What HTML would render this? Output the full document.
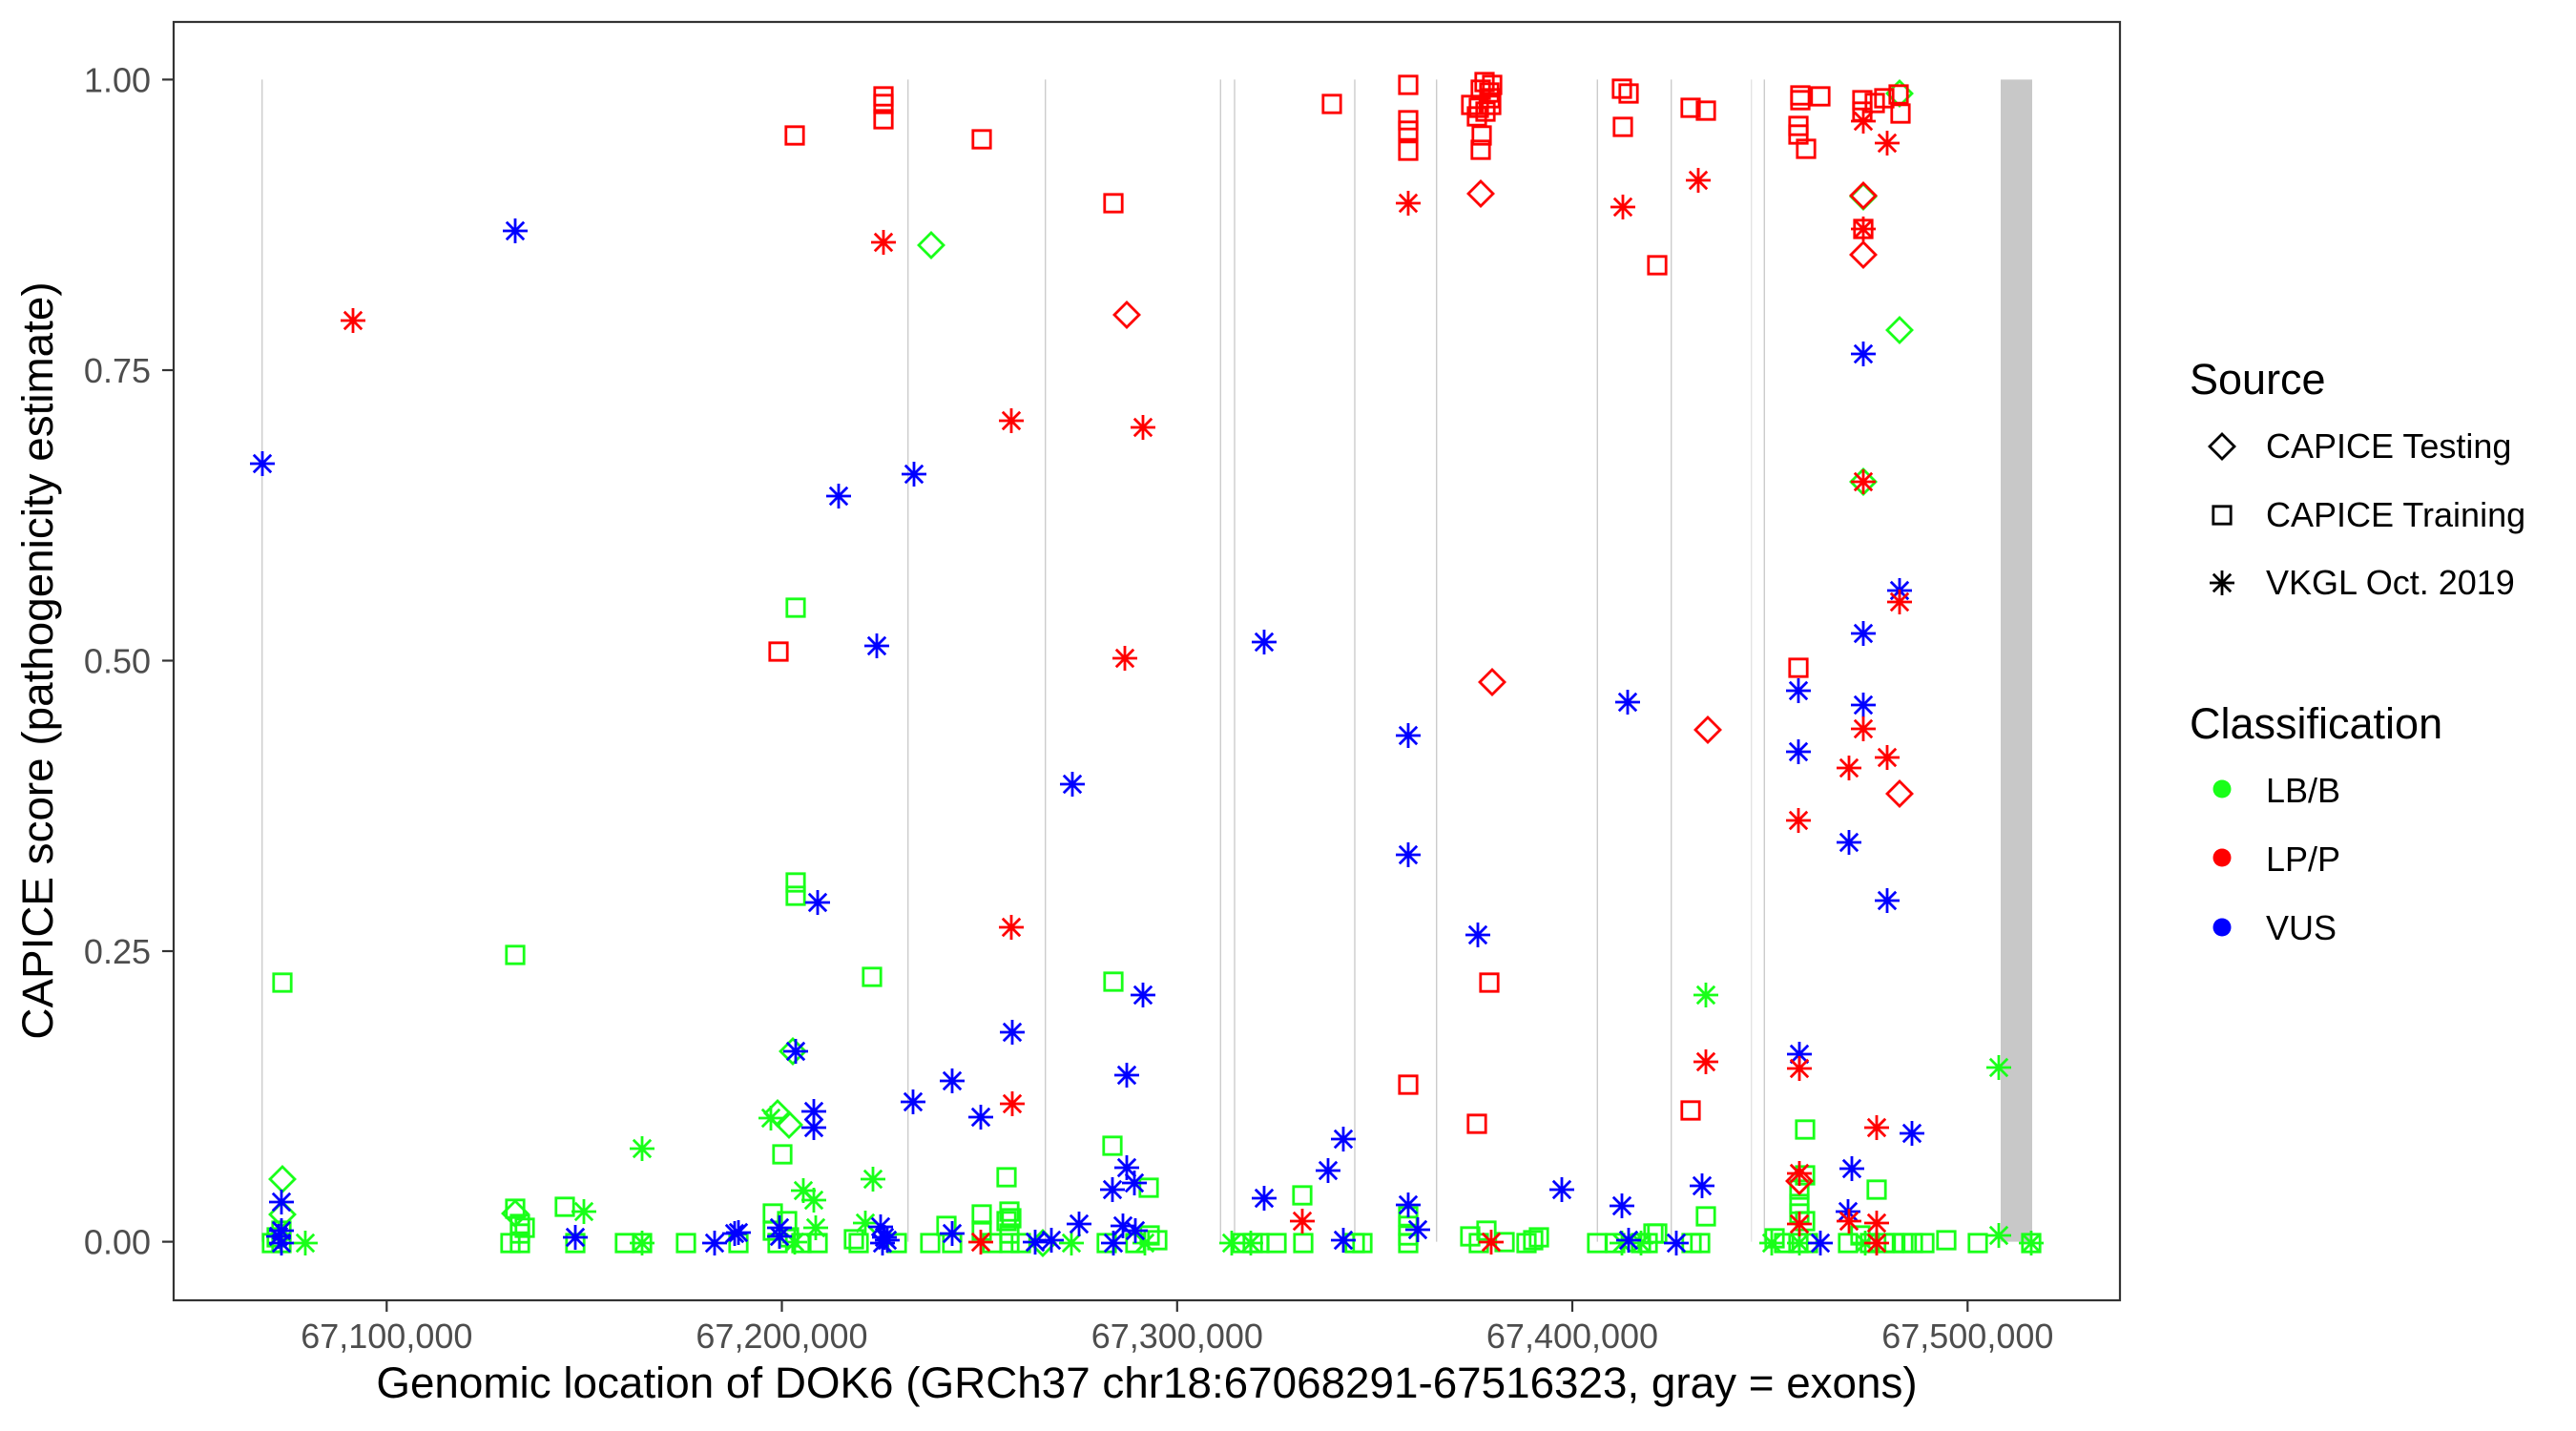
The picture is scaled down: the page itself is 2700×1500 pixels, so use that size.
<!DOCTYPE html>
<html><head><meta charset="utf-8"><style>
html,body{margin:0;padding:0;background:#fff;}
svg{display:block;}
text{font-family:"Liberation Sans",Arial,sans-serif;}
</style></head><body>
<svg width="2700" height="1500" viewBox="0 0 2700 1500" xmlns="http://www.w3.org/2000/svg">
<defs>
<path id="s" d="M-9.2,-9.2H9.2V9.2H-9.2Z" fill="none"/>
<path id="d" d="M0,-13L13,0L0,13L-13,0Z" fill="none"/>
<path id="a" d="M-13,0H13M0,-13V13M-9.2,-9.2L9.2,9.2M-9.2,9.2L9.2,-9.2" fill="none"/>
</defs>
<rect x="0" y="0" width="2700" height="1500" fill="#fff"/>
<g stroke="#cccccc" stroke-width="1.4">
<line x1="274.7" y1="83.4" x2="274.7" y2="1301.6"/>
<line x1="951.7" y1="83.4" x2="951.7" y2="1301.6"/>
<line x1="1095.7" y1="83.4" x2="1095.7" y2="1301.6"/>
<line x1="1279.3" y1="83.4" x2="1279.3" y2="1301.6"/>
<line x1="1294" y1="83.4" x2="1294" y2="1301.6"/>
<line x1="1420" y1="83.4" x2="1420" y2="1301.6"/>
<line x1="1505.7" y1="83.4" x2="1505.7" y2="1301.6"/>
<line x1="1674.3" y1="83.4" x2="1674.3" y2="1301.6"/>
<line x1="1751.7" y1="83.4" x2="1751.7" y2="1301.6"/>
<line x1="1849.3" y1="83.4" x2="1849.3" y2="1301.6"/>
</g>
<line x1="1835.7" y1="83.4" x2="1835.7" y2="1301.6" stroke="#e4e4e4" stroke-width="1.4"/>
<rect x="2097" y="83.4" width="33" height="1218.2" fill="#c8c8c8"/>

<g stroke-width="2.8">
<g stroke="#19ff19">
<use href="#s" x="295" y="1290"/><use href="#s" x="290" y="1297"/><use href="#s" x="295" y="1303"/><use href="#s" x="285" y="1303"/><use href="#s" x="540" y="1267"/><use href="#s" x="545" y="1283"/><use href="#s" x="550" y="1287"/><use href="#s" x="545" y="1293"/><use href="#s" x="545" y="1303"/><use href="#s" x="535" y="1303"/><use href="#s" x="592" y="1265"/><use href="#s" x="603" y="1303"/><use href="#s" x="655" y="1303"/><use href="#s" x="673" y="1303"/><use href="#s" x="296" y="1030"/><use href="#s" x="540" y="1001"/>
<use href="#s" x="719" y="1303"/><use href="#s" x="774" y="1303"/><use href="#s" x="820" y="1210"/><use href="#s" x="810" y="1272"/><use href="#s" x="825" y="1280"/><use href="#s" x="810" y="1290"/><use href="#s" x="827" y="1297"/><use href="#s" x="815" y="1303"/><use href="#s" x="840" y="1303"/><use href="#s" x="857" y="1303"/><use href="#s" x="895" y="1299"/><use href="#s" x="900" y="1303"/><use href="#s" x="940" y="1303"/><use href="#s" x="975" y="1303"/><use href="#s" x="992" y="1285"/><use href="#s" x="998" y="1303"/><use href="#s" x="1029" y="1273"/><use href="#s" x="1029" y="1290"/><use href="#s" x="1040" y="1303"/><use href="#s" x="1055" y="1234"/><use href="#s" x="1058" y="1270"/><use href="#s" x="1060" y="1277"/><use href="#s" x="1055" y="1280"/><use href="#s" x="1058" y="1293"/><use href="#s" x="1058" y="1303"/><use href="#s" x="1070" y="1303"/><use href="#s" x="1166" y="1201"/><use href="#s" x="1204" y="1245"/><use href="#s" x="1160" y="1303"/><use href="#s" x="1190" y="1303"/><use href="#s" x="1205" y="1295"/><use href="#s" x="1213" y="1300"/>
<use href="#s" x="834" y="637"/><use href="#s" x="834" y="925"/><use href="#s" x="834" y="939"/><use href="#s" x="914" y="1024"/><use href="#s" x="1167" y="1029"/>
<use href="#s" x="1302" y="1303"/><use href="#s" x="1313" y="1303"/><use href="#s" x="1320" y="1303"/><use href="#s" x="1338" y="1303"/><use href="#s" x="1365" y="1253"/><use href="#s" x="1366" y="1303"/><use href="#s" x="1420" y="1303"/><use href="#s" x="1428" y="1303"/><use href="#s" x="1476" y="1275"/><use href="#s" x="1476" y="1285"/><use href="#s" x="1476" y="1295"/><use href="#s" x="1476" y="1303"/><use href="#s" x="1541" y="1296"/><use href="#s" x="1550" y="1303"/><use href="#s" x="1558" y="1290"/><use href="#s" x="1577" y="1302"/><use href="#s" x="1607" y="1300"/><use href="#s" x="1613" y="1297"/><use href="#s" x="1600" y="1303"/><use href="#s" x="1674" y="1303"/><use href="#s" x="1693" y="1303"/><use href="#s" x="1720" y="1303"/><use href="#s" x="1733" y="1293"/>
<use href="#s" x="1727" y="1303"/><use href="#s" x="1737" y="1293"/><use href="#s" x="1788" y="1275"/><use href="#s" x="1773" y="1303"/><use href="#s" x="1782" y="1303"/><use href="#s" x="1892" y="1184"/><use href="#s" x="1892" y="1232"/><use href="#s" x="1886" y="1247"/><use href="#s" x="1886" y="1262"/><use href="#s" x="1886" y="1272"/><use href="#s" x="1892" y="1280"/><use href="#s" x="1860" y="1298"/><use href="#s" x="1870" y="1303"/><use href="#s" x="1885" y="1303"/><use href="#s" x="1895" y="1303"/><use href="#s" x="1967" y="1247"/><use href="#s" x="1937" y="1303"/><use href="#s" x="1950" y="1295"/><use href="#s" x="1960" y="1303"/><use href="#s" x="1975" y="1303"/><use href="#s" x="1985" y="1303"/><use href="#s" x="1995" y="1303"/><use href="#s" x="2005" y="1303"/><use href="#s" x="2017" y="1303"/><use href="#s" x="2040" y="1300"/><use href="#s" x="2073" y="1303"/><use href="#s" x="2129" y="1303"/>
<use href="#d" x="296" y="1236"/><use href="#d" x="296" y="1273"/><use href="#d" x="540" y="1272"/><use href="#d" x="831" y="1102"/><use href="#d" x="815" y="1167"/><use href="#d" x="827" y="1179"/><use href="#d" x="976" y="257"/><use href="#d" x="1093" y="1303"/><use href="#d" x="1991" y="98"/><use href="#d" x="1953" y="206"/><use href="#d" x="1991" y="346"/><use href="#d" x="1953" y="505"/>
<use href="#a" x="320" y="1303"/><use href="#a" x="612" y="1270"/><use href="#a" x="673" y="1204"/><use href="#a" x="673" y="1303"/><use href="#a" x="808" y="1172"/><use href="#a" x="842" y="1248"/><use href="#a" x="853" y="1258"/><use href="#a" x="855" y="1287"/><use href="#a" x="833" y="1302"/><use href="#a" x="915" y="1236"/><use href="#a" x="907" y="1282"/><use href="#a" x="1123" y="1303"/><use href="#a" x="1200" y="1303"/><use href="#a" x="1291" y="1303"/><use href="#a" x="1311" y="1303"/><use href="#a" x="1700" y="1303"/><use href="#a" x="1720" y="1303"/><use href="#a" x="1788" y="1043"/><use href="#a" x="1857" y="1303"/><use href="#a" x="1886" y="1303"/><use href="#a" x="1955" y="1303"/><use href="#a" x="2095" y="1119"/><use href="#a" x="2095" y="1295"/><use href="#a" x="2129" y="1303"/>
</g>
<g stroke="#0000ff">
<use href="#a" x="275" y="486"/><use href="#a" x="540" y="242"/><use href="#a" x="295" y="1260"/><use href="#a" x="295" y="1290"/><use href="#a" x="295" y="1303"/><use href="#a" x="292" y="1296"/><use href="#a" x="603" y="1297"/><use href="#a" x="749" y="1303"/><use href="#a" x="770" y="1293"/><use href="#a" x="774" y="1292"/><use href="#a" x="834" y="1102"/><use href="#a" x="853" y="1165"/><use href="#a" x="853" y="1182"/><use href="#a" x="817" y="1287"/><use href="#a" x="817" y="1296"/><use href="#a" x="857" y="946"/><use href="#a" x="879" y="520"/><use href="#a" x="919" y="677"/><use href="#a" x="958" y="497"/><use href="#a" x="957" y="1155"/><use href="#a" x="998" y="1133"/><use href="#a" x="1028" y="1171"/><use href="#a" x="1061" y="1082"/><use href="#a" x="923" y="1286"/><use href="#a" x="927" y="1297"/><use href="#a" x="925" y="1303"/><use href="#a" x="930" y="1300"/><use href="#a" x="998" y="1293"/><use href="#a" x="1085" y="1302"/><use href="#a" x="1102" y="1300"/><use href="#a" x="1124" y="822"/><use href="#a" x="1131" y="1283"/><use href="#a" x="1181" y="1127"/><use href="#a" x="1198" y="1043"/><use href="#a" x="1181" y="1224"/><use href="#a" x="1189" y="1240"/><use href="#a" x="1166" y="1247"/><use href="#a" x="1177" y="1285"/><use href="#a" x="1190" y="1290"/><use href="#a" x="1167" y="1303"/><use href="#a" x="1325" y="673"/><use href="#a" x="1325" y="1256"/><use href="#a" x="1392" y="1227"/><use href="#a" x="1408" y="1194"/><use href="#a" x="1408" y="1300"/><use href="#a" x="1476" y="771"/><use href="#a" x="1476" y="896"/><use href="#a" x="1476" y="1263"/><use href="#a" x="1486" y="1289"/><use href="#a" x="1549" y="980"/><use href="#a" x="1637" y="1247"/><use href="#a" x="1706" y="736"/><use href="#a" x="1700" y="1264"/><use href="#a" x="1707" y="1300"/><use href="#a" x="1784" y="1243"/><use href="#a" x="1757" y="1303"/><use href="#a" x="1885" y="724"/><use href="#a" x="1885" y="788"/><use href="#a" x="1886" y="1105"/><use href="#a" x="1908" y="1303"/><use href="#a" x="1938" y="883"/><use href="#a" x="1941" y="1225"/><use href="#a" x="1937" y="1270"/><use href="#a" x="1953" y="371"/><use href="#a" x="1953" y="664"/><use href="#a" x="1953" y="739"/><use href="#a" x="1978" y="944"/><use href="#a" x="1991" y="619"/><use href="#a" x="2004" y="1188"/>
</g>
<g stroke="#ff0000">
<use href="#s" x="833" y="142"/><use href="#s" x="816" y="683"/><use href="#s" x="926" y="101"/><use href="#s" x="926" y="109"/><use href="#s" x="926" y="125"/><use href="#s" x="1029" y="146"/><use href="#s" x="1167" y="213"/><use href="#s" x="1396" y="109"/><use href="#s" x="1476" y="89"/><use href="#s" x="1476" y="126"/><use href="#s" x="1476" y="137"/><use href="#s" x="1476" y="158"/><use href="#s" x="1476" y="1137"/>
<use href="#s" x="1556" y="86"/><use href="#s" x="1564" y="89"/><use href="#s" x="1552" y="94"/><use href="#s" x="1561" y="97"/><use href="#s" x="1562" y="103"/><use href="#s" x="1563" y="110"/><use href="#s" x="1542" y="110"/><use href="#s" x="1550" y="113"/><use href="#s" x="1557" y="117"/><use href="#s" x="1548" y="122"/><use href="#s" x="1553" y="142"/><use href="#s" x="1552" y="157"/>
<use href="#s" x="1548" y="1178"/><use href="#s" x="1561" y="1030"/><use href="#s" x="1700" y="93"/><use href="#s" x="1707" y="98"/><use href="#s" x="1701" y="133"/><use href="#s" x="1737" y="278"/><use href="#s" x="1772" y="113"/><use href="#s" x="1788" y="116"/><use href="#s" x="1772" y="1164"/>
<use href="#s" x="1887" y="100"/><use href="#s" x="1887" y="105"/><use href="#s" x="1908" y="101"/><use href="#s" x="1885" y="132"/><use href="#s" x="1885" y="141"/><use href="#s" x="1893" y="156"/><use href="#s" x="1885" y="700"/>
<use href="#s" x="1952" y="105"/><use href="#s" x="1952" y="117"/><use href="#s" x="1965" y="108"/><use href="#s" x="1975" y="103"/><use href="#s" x="1990" y="99"/><use href="#s" x="1992" y="119"/><use href="#s" x="1953" y="240"/>
<use href="#d" x="1181" y="330"/><use href="#d" x="1552" y="203"/><use href="#d" x="1564" y="715"/><use href="#d" x="1790" y="765"/><use href="#d" x="1886" y="1238"/><use href="#d" x="1953" y="205"/><use href="#d" x="1953" y="267"/><use href="#d" x="1991" y="832"/>
<use href="#a" x="370" y="336"/><use href="#a" x="926" y="254"/><use href="#a" x="1060" y="441"/><use href="#a" x="1060" y="972"/><use href="#a" x="1061" y="1157"/><use href="#a" x="1179" y="690"/><use href="#a" x="1198" y="448"/><use href="#a" x="1028" y="1302"/><use href="#a" x="1365" y="1280"/><use href="#a" x="1476" y="213"/><use href="#a" x="1563" y="1302"/><use href="#a" x="1701" y="217"/><use href="#a" x="1780" y="189"/><use href="#a" x="1788" y="1113"/><use href="#a" x="1886" y="1120"/><use href="#a" x="1886" y="1230"/><use href="#a" x="1886" y="1283"/><use href="#a" x="1885" y="860"/><use href="#a" x="1938" y="805"/><use href="#a" x="1938" y="1280"/><use href="#a" x="1953" y="505"/><use href="#a" x="1953" y="764"/><use href="#a" x="1953" y="127"/><use href="#a" x="1953" y="240"/><use href="#a" x="1967" y="1182"/><use href="#a" x="1967" y="1282"/><use href="#a" x="1967" y="1303"/><use href="#a" x="1978" y="150"/><use href="#a" x="1978" y="794"/><use href="#a" x="1991" y="631"/>
</g>
</g>

<rect x="182" y="23" width="2040" height="1340" fill="none" stroke="#333333" stroke-width="2.2"/>
<g stroke="#333333" stroke-width="2.2">
<line x1="170" y1="83.4" x2="182" y2="83.4"/>
<line x1="170" y1="388" x2="182" y2="388"/>
<line x1="170" y1="692.5" x2="182" y2="692.5"/>
<line x1="170" y1="997" x2="182" y2="997"/>
<line x1="170" y1="1301.6" x2="182" y2="1301.6"/>
<line x1="405.3" y1="1363" x2="405.3" y2="1375"/>
<line x1="819.5" y1="1363" x2="819.5" y2="1375"/>
<line x1="1233.8" y1="1363" x2="1233.8" y2="1375"/>
<line x1="1648" y1="1363" x2="1648" y2="1375"/>
<line x1="2062.3" y1="1363" x2="2062.3" y2="1375"/>
</g>
<g font-size="36" fill="#4d4d4d" text-anchor="end">
<text x="158" y="96.4">1.00</text>
<text x="158" y="401">0.75</text>
<text x="158" y="705.5">0.50</text>
<text x="158" y="1010">0.25</text>
<text x="158" y="1314.6">0.00</text>
</g>
<g font-size="36" fill="#4d4d4d" text-anchor="middle">
<text x="405.3" y="1413">67,100,000</text>
<text x="819.5" y="1413">67,200,000</text>
<text x="1233.8" y="1413">67,300,000</text>
<text x="1648" y="1413">67,400,000</text>
<text x="2062.3" y="1413">67,500,000</text>
</g>
<text x="1202" y="1465" font-size="45.8" text-anchor="middle" fill="#000">Genomic location of DOK6 (GRCh37 chr18:67068291-67516323, gray = exons)</text>
<text transform="translate(55,692.5) rotate(-90)" font-size="45.8" text-anchor="middle" fill="#000">CAPICE score (pathogenicity estimate)</text>

<text x="2295" y="413" font-size="45" fill="#000">Source</text>
<g stroke="#000" stroke-width="2.8">
<use href="#d" x="2329" y="468"/>
<use href="#s" x="2329" y="540"/>
<use href="#a" x="2329" y="611"/>
</g>
<g font-size="36" fill="#000">
<text x="2375" y="480">CAPICE Testing</text>
<text x="2375" y="552">CAPICE Training</text>
<text x="2375" y="623">VKGL Oct. 2019</text>
</g>
<text x="2295" y="774" font-size="45" fill="#000">Classification</text>
<circle cx="2329" cy="827" r="9.5" fill="#19ff19"/>
<circle cx="2329" cy="899" r="9.5" fill="#ff0000"/>
<circle cx="2329" cy="972" r="9.5" fill="#0000ff"/>
<g font-size="36" fill="#000">
<text x="2375" y="841">LB/B</text>
<text x="2375" y="913">LP/P</text>
<text x="2375" y="985">VUS</text>
</g>
</svg>
</body></html>
